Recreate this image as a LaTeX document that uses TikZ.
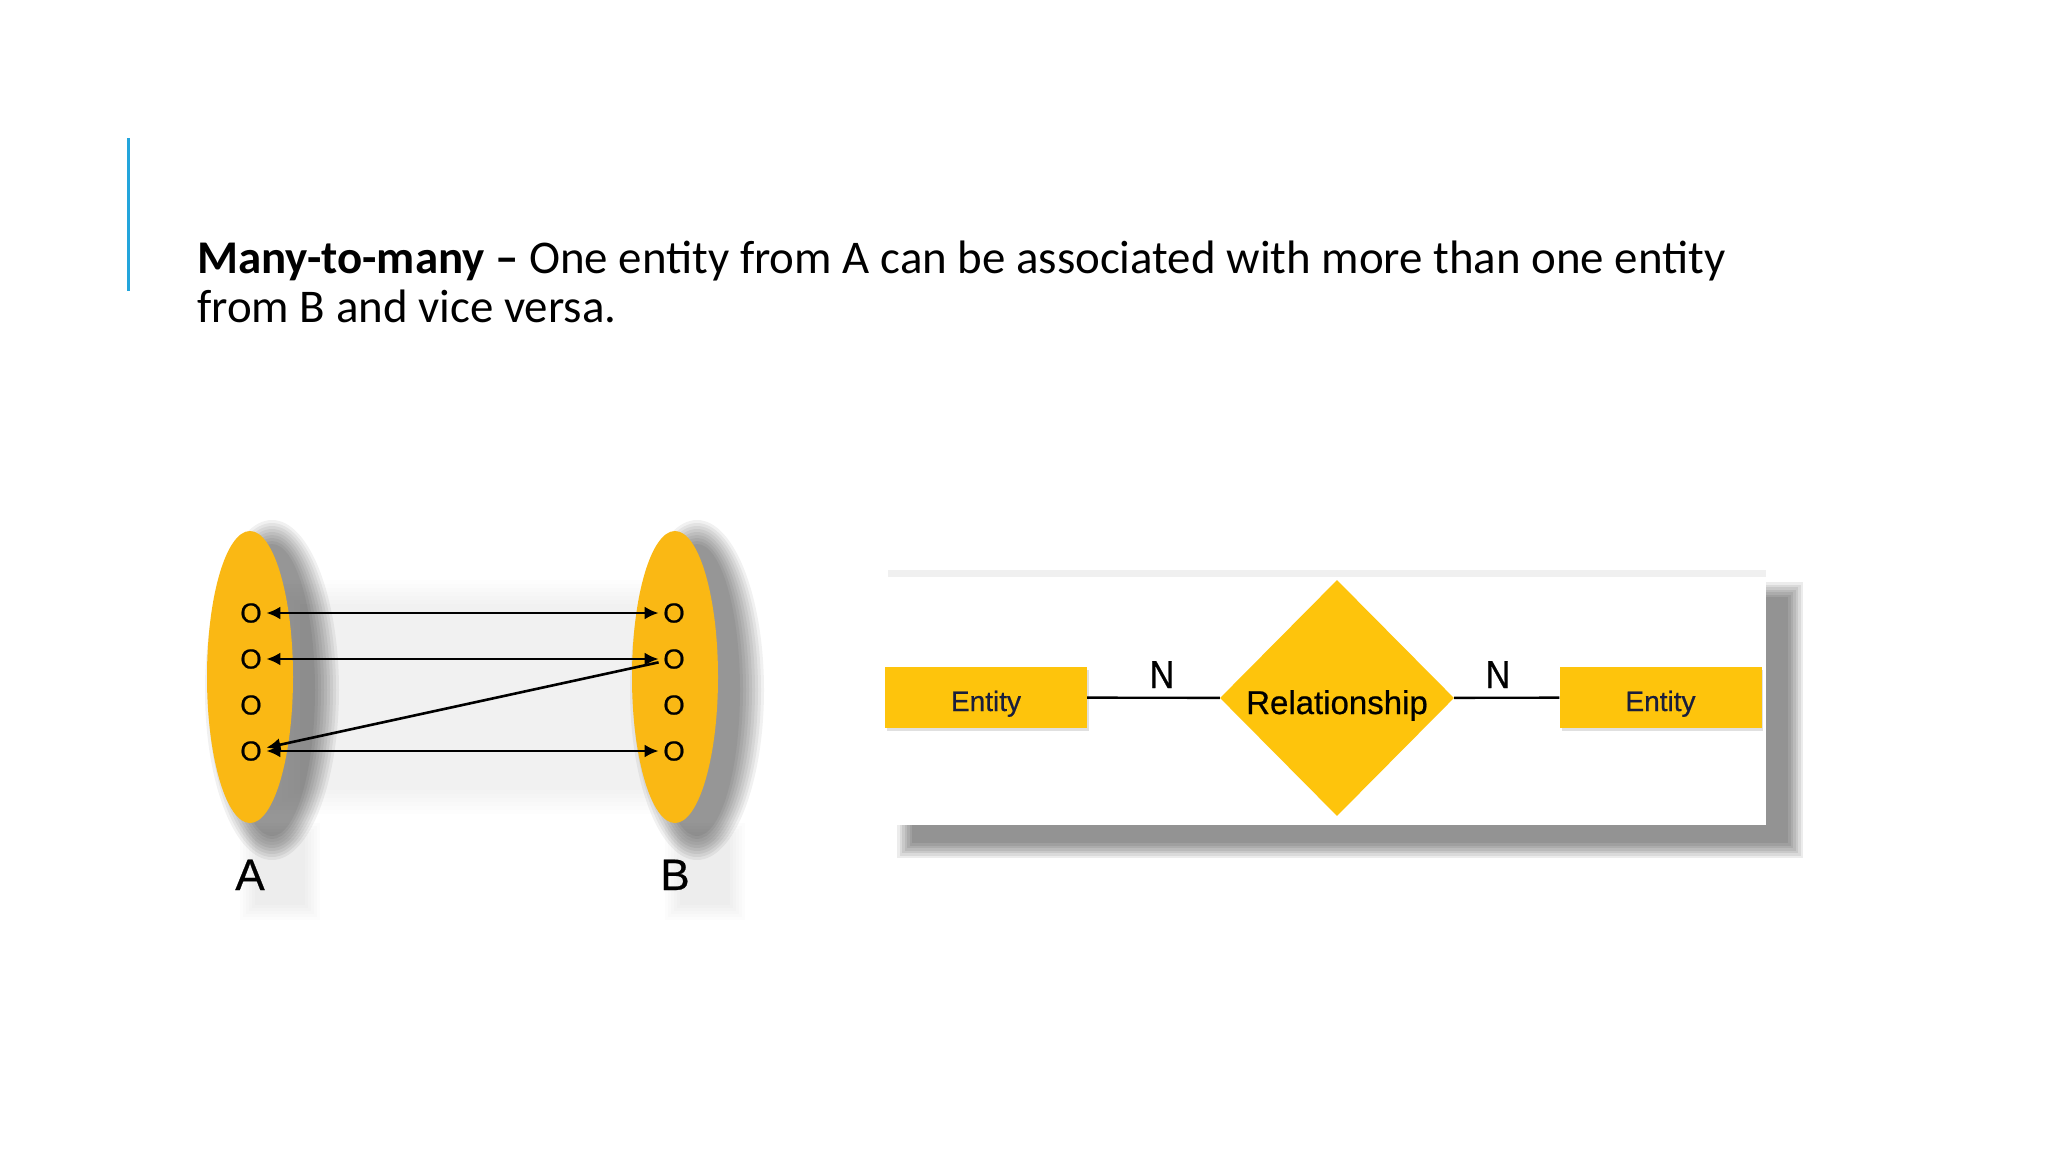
\documentclass[tikz,border=0pt]{standalone}
\usepackage{fontspec}
\setmainfont{Carlito}
\newfontfamily\arialf[FakeBold=0.6]{Liberation Sans}
\usetikzlibrary{arrows.meta,shapes.geometric}
\definecolor{accent}{RGB}{35,165,220}
\definecolor{ellY}{RGB}{250,184,20}
\definecolor{erY}{RGB}{254,196,12}
\definecolor{navy}{RGB}{25,30,60}
\tikzset{
  setell/.style={fill=ellY, draw=none},
  elem/.style={font=\arialf\fontsize{27.5}{27.5}\selectfont, inner sep=4.5pt, text=black},
  setlabel/.style={anchor=base, font=\arialf\fontsize{44}{44}\selectfont, text=black, inner sep=0pt},
  maparrow/.style={line width=2.6pt, {Latex[length=14pt,width=13pt]}-{Latex[length=14pt,width=13pt]}},
  diagarrow/.style={line width=2.6pt, -{Latex[length=14pt,width=13pt]}},
  entbox/.style={rectangle, fill=erY, minimum width=202pt, minimum height=61pt, inner sep=0pt},
  enttext/.style={anchor=base, inner sep=0pt, font=\arialf\fontsize{28}{28}\selectfont, text=navy},
  relbox/.style={diamond, fill=erY, minimum width=234pt, minimum height=236pt, inner sep=0pt},
  reltext/.style={anchor=base, inner sep=0pt, font=\arialf\fontsize{33}{33}\selectfont, text=black},
  card/.style={anchor=base, inner sep=0pt, font=\arialf\fontsize{39}{39}\selectfont, text=black},
  erline/.style={line width=2.4pt, draw=black},
  title/.style={anchor=base west, font=\fontsize{46.9}{52}\selectfont, inner sep=0pt}
}
\begin{document}
\begin{tikzpicture}[x=1pt,y=-1pt]
\useasboundingbox (0,0) rectangle (2048,1152);
\fill[white] (0,0) rectangle (2048,1152);

% accent bar
\draw[accent, line width=3pt] (128,138) -- (128,291);

% title
\node[title] (t1) at (197,273) {\textbf{Many-to-many –} One entity from A can be associated with more than one entity};
\node[title] (t2) at (197,322) {from B and vice versa.};

% ---- left diagram: shadows ----
\foreach \k in {0,...,6}{
  \fill[black, opacity=0.006] (300-\k*6,604-\k*4) rectangle (650+\k*6,790+\k*4);
}
\foreach \k in {8,7,...,0}{
  \fill[black, opacity=0.055] (272,690) ellipse [x radius={43+\k*3}, y radius={146+\k*3}];
  \fill[black, opacity=0.055] (697,690) ellipse [x radius={43+\k*3}, y radius={146+\k*3}];
}
\foreach \k in {5,...,0}{
  \fill[black, opacity=0.012] (255-\k*3,838-\k*3) rectangle (305+\k*3,905+\k*3);
  \fill[black, opacity=0.012] (680-\k*3,838-\k*3) rectangle (730+\k*3,905+\k*3);
}
\fill[setell] (250,677) ellipse [x radius=43, y radius=146];
\fill[setell] (675,677) ellipse [x radius=43, y radius=146];

% elements
\node[elem] (a1) at (251,613) {O};
\node[elem] (a2) at (251,659) {O};
\node[elem] (a3) at (251,705) {O};
\node[elem] (a4) at (251,751) {O};
\node[elem] (b1) at (674,613) {O};
\node[elem] (b2) at (674,659) {O};
\node[elem] (b3) at (674,705) {O};
\node[elem] (b4) at (674,751) {O};

\draw[maparrow] (a1) -- (b1);
\draw[maparrow] (a2) -- (b2);
\draw[maparrow] (a4) -- (b4);
\draw[diagarrow] (b2) -- (a4);

\node[setlabel] (la) at (250,890) {A};
\node[setlabel] (lb) at (675,890) {B};

% ---- right diagram: panel with shadow ----
\foreach \k in {6,5,...,0}{
  \fill[black, opacity=0.075] (912-\k*2.5,597-\k*2.5) rectangle (1788+\k*2.5,843+\k*2.5);
}
\fill[black, opacity=0.06] (888,570) rectangle (1766,577);
\fill[white] (880,577) rectangle (1766,825);

% entity shadows
\fill[black, opacity=0.12] (887,670) rectangle (1089,731);
\fill[black, opacity=0.12] (1562,670) rectangle (1763,731);

\node[entbox] (e1) at (986,697.5) {};
\node[entbox] (e2) at (1660.5,697.5) {};
\node[relbox] (rel) at (1337,698) {};
\node[enttext] (e1t) at (986,711) {Entity};
\node[enttext] (e2t) at (1660.5,711) {Entity};
\node[reltext] (relt) at (1337,714) {Relationship};

\draw[erline] (e1) -- (rel);
\draw[erline] (rel) -- (e2);

\node[card] (n1) at (1162,688) {\scalebox{0.88}[1]{N}};
\node[card] (n2) at (1498,688) {\scalebox{0.88}[1]{N}};
\end{tikzpicture}
\end{document}
